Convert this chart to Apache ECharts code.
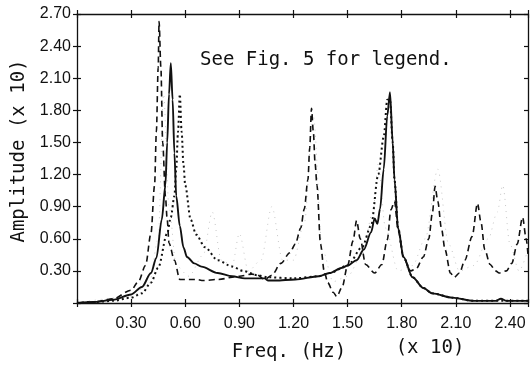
<!DOCTYPE html>
<html>
<head>
<meta charset="utf-8">
<script src="https://cdn.jsdelivr.net/npm/echarts@6/dist/echarts.min.js"></script>
<style>
html,body{margin:0;padding:0;background:#fff;}
#chart{width:531px;height:367px;}
</style>
</head>
<body>
<div id="chart"></div>
<script>
// ---- data (frequency x10 Hz, amplitude x10) ----
const xTicks = [0.30, 0.60, 0.90, 1.20, 1.50, 1.80, 2.10, 2.40];
const yTicks = [0.30, 0.60, 0.90, 1.20, 1.50, 1.80, 2.10, 2.40, 2.70];

const solidFreq = [0.00,0.10,0.20,0.30,0.36,0.41,0.44,0.47,0.49,0.50,0.51,0.52,0.53,0.54,0.55,0.57,0.59,0.61,0.65,0.69,0.78,0.86,0.93,1.00,1.04,1.06,1.10,1.21,1.34,1.40,1.47,1.50,1.55,1.59,1.63,1.65,1.665,1.68,1.70,1.72,1.735,1.75,1.76,1.78,1.81,1.86,1.92,1.97,2.08,2.20,2.32,2.35,2.38,2.50];
const solidAmp  = [0.00,0.01,0.03,0.08,0.15,0.28,0.42,0.78,1.10,1.50,1.95,2.24,1.90,1.40,1.00,0.72,0.52,0.43,0.37,0.34,0.28,0.25,0.23,0.23,0.23,0.21,0.21,0.22,0.25,0.28,0.33,0.35,0.40,0.50,0.66,0.79,0.74,0.88,1.25,1.75,1.97,1.50,1.15,0.70,0.43,0.24,0.14,0.09,0.05,0.02,0.02,0.04,0.02,0.02];

const dashFreq = [0.00,0.10,0.20,0.30,0.34,0.38,0.41,0.43,0.44,0.45,0.455,0.465,0.475,0.49,0.50,0.51,0.54,0.57,0.60,0.63,0.66,0.70,0.78,0.90,0.97,1.00,1.04,1.08,1.13,1.18,1.21,1.24,1.26,1.28,1.29,1.30,1.31,1.32,1.33,1.35,1.37,1.39,1.42,1.44,1.47,1.50,1.53,1.55,1.57,1.60,1.65,1.69,1.72,1.74,1.76,1.78,1.81,1.85,1.88,1.92,1.95,1.97,1.985,2.00,2.02,2.04,2.07,2.09,2.12,2.15,2.19,2.22,2.24,2.26,2.29,2.32,2.34,2.38,2.41,2.44,2.47,2.49,2.50];
const dashAmp  = [0.00,0.01,0.04,0.12,0.20,0.35,0.65,1.10,1.60,2.20,2.63,2.20,1.50,1.00,0.78,0.56,0.40,0.22,0.22,0.22,0.22,0.21,0.22,0.25,0.27,0.26,0.22,0.26,0.37,0.47,0.55,0.70,0.88,1.15,1.45,1.82,1.60,1.30,1.10,0.55,0.30,0.19,0.10,0.06,0.15,0.35,0.58,0.77,0.60,0.36,0.28,0.36,0.59,0.87,0.95,0.68,0.42,0.30,0.32,0.43,0.60,0.84,1.09,0.95,0.70,0.50,0.28,0.24,0.28,0.40,0.62,0.93,0.75,0.50,0.36,0.30,0.28,0.30,0.37,0.55,0.80,0.60,0.45];

const dotFreq = [0.00,0.10,0.20,0.30,0.36,0.41,0.45,0.50,0.52,0.54,0.55,0.56,0.57,0.58,0.59,0.60,0.63,0.66,0.71,0.78,0.86,0.92,1.00,1.06,1.20,1.34,1.40,1.50,1.58,1.63,1.67,1.70,1.72,1.735,1.75,1.76,1.78,1.81,1.86,1.92,1.97,2.08,2.20,2.50];
const dotAmp  = [0.00,0.01,0.02,0.05,0.09,0.19,0.33,0.65,0.80,1.00,1.25,1.60,1.95,1.60,1.30,1.10,0.78,0.64,0.52,0.40,0.34,0.30,0.26,0.24,0.23,0.25,0.28,0.35,0.52,0.72,1.20,1.55,1.90,1.90,1.50,1.15,0.70,0.43,0.24,0.14,0.09,0.05,0.02,0.02];

const faintFreq = [0.00,0.30,0.40,0.45,0.48,0.51,0.55,0.62,0.70,0.75,0.80,0.86,0.90,0.95,1.02,1.08,1.14,1.20,1.26,1.31,1.36,1.42,1.50,1.58,1.64,1.67,1.71,1.78,1.86,1.93,2.00,2.06,2.12,2.20,2.28,2.33,2.36,2.40,2.45,2.50];
const faintAmp  = [0.00,0.06,0.18,0.60,1.95,0.90,0.35,0.25,0.45,0.85,0.40,0.35,0.65,0.30,0.40,0.90,0.40,0.40,0.75,1.75,0.50,0.20,0.25,0.45,0.85,1.30,0.70,0.30,0.35,0.60,1.25,0.55,0.30,0.35,0.60,0.85,1.10,0.55,0.30,0.50];

const zip = (xs, ys) => xs.map((x, i) => [x, ys[i]]);

const chart = echarts.init(document.getElementById('chart'), null, {renderer: 'canvas'});
const INK = '#111';
const isTick = v => v > 0.001 && Math.abs(v / 0.3 - Math.round(v / 0.3)) < 1e-6;

function xAx(position, tickInside, showLine, showLabel) {
  return {
    type: 'value', position: position, min: 0, max: 2.5, interval: 0.3,
    splitLine: {show: false},
    axisLine: {show: showLine, onZero: false, lineStyle: {color: INK, width: 1.3}},
    axisTick: {show: true, inside: tickInside, length: 4, lineStyle: {color: INK, width: 1.2},
               interval: 0},
    axisLabel: {show: showLabel, color: INK, fontSize: 16, fontFamily: 'Liberation Sans', margin: 13,
                formatter: v => (isTick(v) && xTicks.some(t => Math.abs(t - v) < 1e-6)) ? v.toFixed(2) : ''}
  };
}
function yAx(position, tickInside, showLine, showLabel) {
  return {
    type: 'value', position: position, min: 0, max: 2.7, interval: 0.3,
    splitLine: {show: false},
    axisLine: {show: showLine, onZero: false, lineStyle: {color: INK, width: 1.3}},
    axisTick: {show: true, inside: tickInside, length: 4, lineStyle: {color: INK, width: 1.2}},
    axisLabel: {show: showLabel, color: INK, fontSize: 16, fontFamily: 'Liberation Sans', margin: 6,
                formatter: v => (isTick(v) && yTicks.some(t => Math.abs(t - v) < 1e-6)) ? v.toFixed(2) : ''}
  };
}

const option = {
  animation: false,
  backgroundColor: '#fff',
  grid: {left: 77, right: 3, top: 14, bottom: 64, containLabel: false},
  xAxis: [xAx('bottom', false, true, true), xAx('bottom', true, false, false),
          xAx('top', true, true, false), xAx('top', false, false, false)],
  yAxis: [yAx('left', false, true, true), yAx('left', true, false, false),
          yAx('right', true, true, false)],
  series: [
    {type: 'line', name: 'faint', data: zip(faintFreq, faintAmp), showSymbol: false, smooth: 0.3,
     smoothMonotone: 'x', lineStyle: {color: '#c6c6c6', width: 1, type: [1, 5]}, z: 1},
    {type: 'line', name: 'dotted', data: zip(dotFreq, dotAmp), showSymbol: false, smooth: 0.3,
     smoothMonotone: 'x', lineStyle: {color: INK, width: 2, type: [2, 3]}, z: 2},
    {type: 'line', name: 'dashed', data: zip(dashFreq, dashAmp), showSymbol: false, smooth: 0.3,
     smoothMonotone: 'x', lineStyle: {color: INK, width: 1.6, type: [6, 4]}, z: 3},
    {type: 'line', name: 'solid', data: zip(solidFreq, solidAmp), showSymbol: false, smooth: 0.3,
     smoothMonotone: 'x', lineStyle: {color: INK, width: 1.9, type: 'solid'}, z: 4}
  ],
  graphic: [
    {type: 'text', left: 200, top: 51, z: 10,
     style: {text: 'See Fig. 5 for legend.', fill: INK, font: '19px "DejaVu Sans Mono"'}},
    {type: 'text', x: 289, y: 352, z: 10,
     style: {text: 'Freq. (Hz)', fill: INK, font: '19px "DejaVu Sans Mono"', align: 'center', verticalAlign: 'middle'}},
    {type: 'text', x: 430, y: 348, z: 10,
     style: {text: '(x 10)', fill: INK, font: '19px "DejaVu Sans Mono"', align: 'center', verticalAlign: 'middle'}},
    {type: 'text', x: 19, y: 151, rotation: Math.PI / 2, z: 10,
     style: {text: 'Amplitude (x 10)', fill: INK, font: '19px "DejaVu Sans Mono"', align: 'center', verticalAlign: 'middle'}}
  ]
};
chart.setOption(option);
</script>
</body>
</html>
